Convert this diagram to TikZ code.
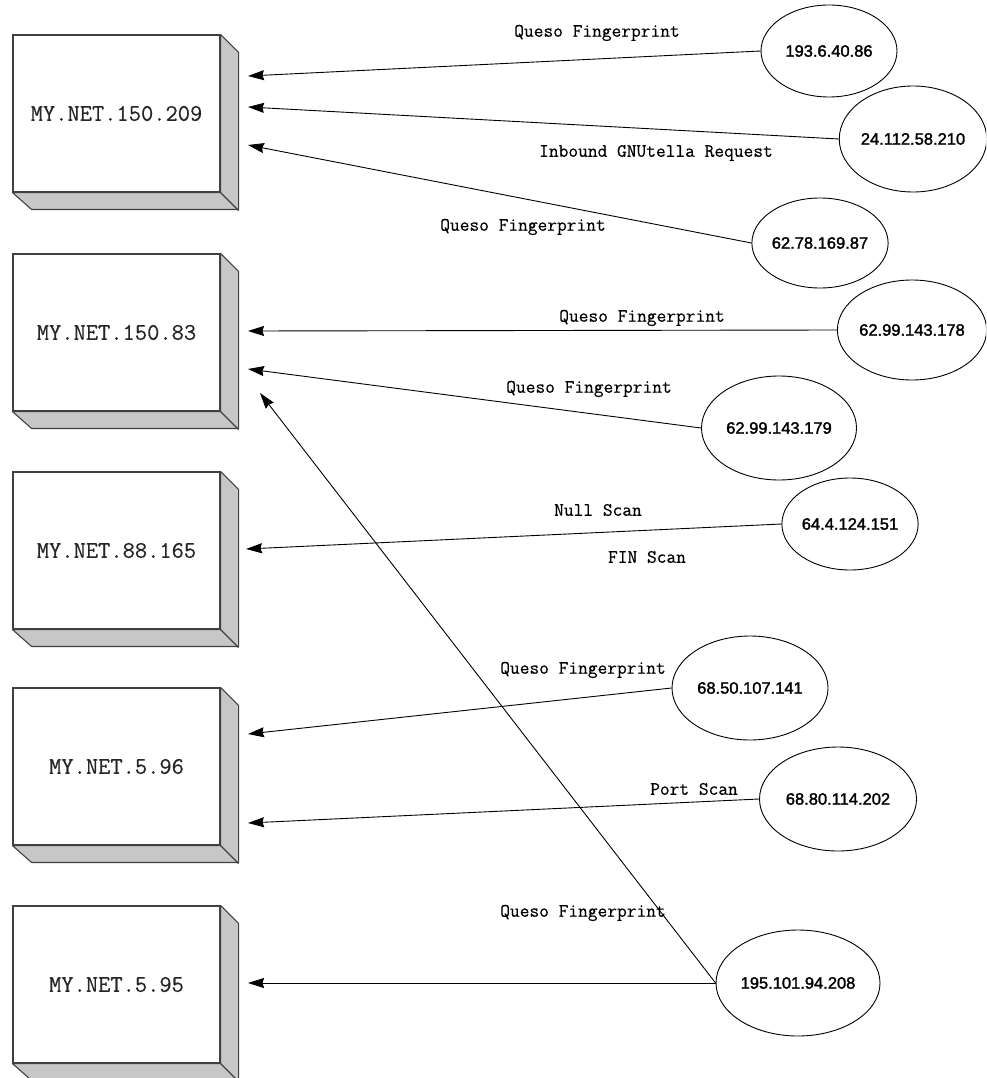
\documentclass[tikz,border=0pt]{standalone}
\usepackage{fontspec}
\usetikzlibrary{shapes.geometric,arrows.meta}
\newfontfamily\sansfam[FakeBold=1.8]{Liberation Sans}
\newfontfamily\monofam[FakeBold=0.4]{Latin Modern Mono}
\begin{document}
\begin{tikzpicture}[x=1pt,y=-1pt,
  hostbox/.style={draw=black!75, fill=white, line width=1.1pt, minimum width=207pt, minimum height=157pt, inner sep=0pt,
    font=\monofam\fontsize{23.8}{27}\selectfont, text=black!85},
  face/.style={draw=black!75, fill=black!22, line width=1.1pt, line join=round},
  ipnode/.style={draw=black, ellipse, line width=0.9pt, inner sep=0pt, font=\sansfam\fontsize{16.5}{19}\selectfont},
  lbl/.style={font=\monofam\fontsize{18.9}{22}\selectfont, inner sep=0pt},
  arr/.style={-{Stealth[length=16pt,width=10pt,inset=1.5pt]}, line width=0.9pt}
]
\path[use as bounding box] (0,0) rectangle (986,1078);
\clip (0,0) rectangle (986,1078);

% boxes
\foreach \n/\y/\t in {b1/113.5/MY.NET.150.209, b2/332.5/MY.NET.150.83, b3/550.5/MY.NET.88.165, b4/766.5/MY.NET.5.96, b5/984.5/MY.NET.5.95}{
  \node[hostbox] (\n) at (116.5,\y) {\t};
  \draw[face] (\n.north east) -- ++(18,18) -- ++(0,157) -- ++(-207,0) -- (\n.south west) -- (\n.south east) -- cycle;
  \draw[face] (\n.south east) -- ++(18,18);
}

% ellipses
\node[ipnode, minimum width=136pt, minimum height=92pt]  (e1) at (829,51)  {193.6.40.86};
\node[ipnode, minimum width=142pt, minimum height=106pt] (e2) at (913,139) {24.112.58.210};
\node[ipnode, minimum width=136pt, minimum height=90pt]  (e3) at (820,243) {62.78.169.87};
\node[ipnode, minimum width=148pt, minimum height=100pt] (e4) at (912,330) {62.99.143.178};
\node[ipnode, minimum width=155pt, minimum height=104pt] (e5) at (779,428) {62.99.143.179};
\node[ipnode, minimum width=134pt, minimum height=92pt]  (e6) at (850,524) {64.4.124.151};
\node[ipnode, minimum width=156pt, minimum height=104pt] (e7) at (750,688) {68.50.107.141};
\node[ipnode, minimum width=157pt, minimum height=104pt] (e8) at (838,799) {68.80.114.202};
\node[ipnode, minimum width=164pt, minimum height=106pt] (e9) at (798,983) {195.101.94.208};

% arrow tips
\coordinate (t1) at (248,76);
\coordinate (t2) at (248,107);
\coordinate (t3) at (248,145);
\coordinate (t4) at (248,331);
\coordinate (t5) at (248,369);
\coordinate (t6) at (260,393);
\coordinate (t7) at (246,549);
\coordinate (t8) at (248,734);
\coordinate (t9) at (248,823);
\coordinate (t10) at (248,983);

\draw[arr] (e1.west) -- (t1);
\draw[arr] (e2.west) -- (t2);
\draw[arr] (e3.west) -- (t3);
\draw[arr] (e4.west) -- (t4);
\draw[arr] (e5.west) -- (t5);
\draw[arr] (e9.west) -- (t6);
\draw[arr] (e6.west) -- (t7);
\draw[arr] (e7.west) -- (t8);
\draw[arr] (e8.west) -- (t9);
\draw[arr] (e9.west) -- (t10);

% labels
\node[lbl] (l1) at (597,33)  {Queso Fingerprint};
\node[lbl] (l2) at (656,153) {Inbound GNUtella Request};
\node[lbl] (l3) at (523,227) {Queso Fingerprint};
\node[lbl] (l4) at (642,318) {Queso Fingerprint};
\node[lbl] (l5) at (589,389) {Queso Fingerprint};
\node[lbl] (l6) at (598,510) {Null Scan};
\node[lbl] (l7) at (647,557) {FIN Scan};
\node[lbl] (l8) at (583,670) {Queso Fingerprint};
\node[lbl] (l9) at (694,789) {Port Scan};
\node[lbl] (l10) at (583,913) {Queso Fingerprint};
\end{tikzpicture}
\end{document}
